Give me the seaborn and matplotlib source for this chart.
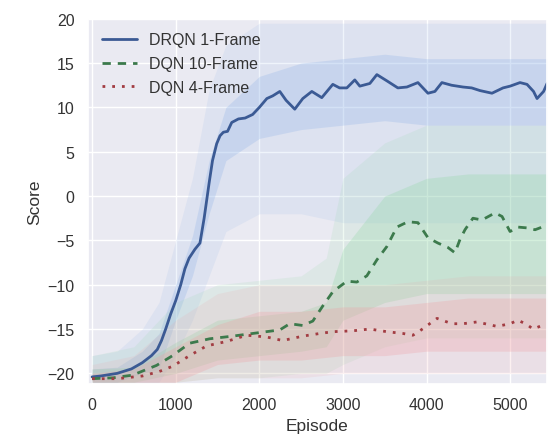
import numpy as np
import pandas as pd
import matplotlib
matplotlib.use("Agg")
import matplotlib.pyplot as plt
import seaborn as sns

# ---- data ----
series_names = ["DRQN 1-Frame", "DQN 10-Frame", "DQN 4-Frame"]

drqn_ep = [0, 100, 300, 470, 600, 710, 780, 830, 880, 940, 1000, 1060, 1110, 1160, 1230, 1290,
           1340, 1400, 1440, 1490, 1530, 1570, 1620, 1670, 1750, 1830, 1920, 2000, 2090, 2160,
           2245, 2320, 2424, 2520, 2628, 2747, 2879, 2960, 3047, 3142, 3202, 3322, 3406, 3525,
           3657, 3765, 3897, 4017, 4100, 4184, 4300, 4436, 4540, 4639, 4783, 4915, 5000, 5118,
           5202, 5280, 5322, 5400, 5442]
drqn_val = [-20.4, -20.3, -20.0, -19.5, -18.8, -18.0, -17.3, -16.3, -15.0, -13.3, -11.8, -10.0,
            -8.2, -7.0, -6.0, -5.3, -2.5, 1.5, 4.0, 5.9, 6.8, 7.2, 7.3, 8.3, 8.7, 8.8, 9.2, 10.0,
            11.0, 11.3, 11.8, 10.8, 9.8, 11.0, 11.8, 11.1, 12.6, 12.2, 12.2, 13.1, 12.4, 12.7,
            13.7, 13.0, 12.2, 12.3, 12.8, 11.6, 11.8, 12.8, 12.5, 12.3, 12.2, 11.9, 11.6, 12.2,
            12.4, 12.8, 12.6, 11.8, 11.0, 11.8, 12.7]

dqn10_ep = [0, 250, 484, 771, 963, 1166, 1406, 1681, 1921, 2245, 2364, 2520, 2640, 2759, 2879,
            3047, 3166, 3286, 3406, 3525, 3645, 3777, 3897, 4017, 4136, 4256, 4340, 4400, 4460,
            4555, 4663, 4819, 4903, 4999, 5094, 5214, 5298, 5382]
dqn10_val = [-20.6, -20.5, -20.2, -19.1, -18.0, -16.6, -16.1, -15.8, -15.5, -15.1, -14.4, -14.6,
             -14.1, -12.4, -10.8, -9.6, -9.7, -9.0, -7.2, -5.7, -3.5, -2.9, -3.0, -4.7, -5.3,
             -5.8, -6.4, -4.9, -3.8, -2.5, -2.7, -1.9, -2.3, -4.0, -3.5, -3.6, -3.8, -3.5]

dqn4_ep = [0, 300, 600, 800, 963, 1166, 1370, 1609, 1849, 2089, 2280, 2520, 2723, 2879, 3118,
           3322, 3525, 3717, 3837, 3921, 4125, 4304, 4436, 4603, 4843, 4999, 5094, 5202, 5274,
           5382]
dqn4_val = [-20.6, -20.6, -20.3, -19.8, -19.2, -18.0, -16.9, -16.4, -15.7, -15.9, -16.3, -15.8,
            -15.5, -15.3, -15.2, -15.0, -15.3, -15.5, -15.7, -15.2, -13.8, -14.4, -14.4, -14.2,
            -14.7, -14.4, -14.0, -14.5, -15.0, -14.6]

# spread of the raw scores (inner = dense part, outer = faint extremes)
drqn_band_ep = [0, 300, 600, 800, 1000, 1200, 1400, 1600, 2000, 2500, 3000, 3500, 4000, 4500, 5000, 5440]
drqn_in_hi = [-19.5, -19.3, -17.5, -15.5, -10.0, -4.5, 4.0, 10.0, 13.5, 15.0, 15.5, 16.0, 15.5, 15.5, 15.5, 15.5]
drqn_in_lo = [-21.0, -21.0, -20.0, -19.5, -14.0, -9.0, -2.0, 4.0, 6.5, 7.5, 8.0, 8.5, 8.0, 8.0, 8.0, 8.0]
drqn_out_hi = [-18.0, -17.5, -15.0, -12.0, -5.0, 2.0, 12.0, 17.0, 19.5, 19.5, 19.5, 19.5, 19.5, 19.5, 19.5, 19.5]
drqn_out_lo = [-21.0, -21.0, -21.0, -21.0, -18.0, -14.0, -9.0, -4.0, -2.0, -2.0, -3.0, -3.0, -3.0, -3.0, -3.0, -3.0]

dqn10_band_ep = [0, 500, 1000, 1500, 2000, 2500, 2800, 3000, 3500, 4000, 4500, 5000, 5440]
dqn10_in_hi = [-19.5, -19.3, -16.5, -14.0, -13.5, -13.0, -12.0, -6.0, 0.0, 2.0, 2.5, 2.5, 2.5]
dqn10_in_lo = [-21.0, -21.0, -20.0, -18.5, -18.0, -17.5, -17.0, -14.0, -12.0, -11.0, -11.0, -11.0, -11.0]
dqn10_out_hi = [-18.0, -17.0, -12.0, -10.0, -9.5, -9.0, -7.0, 2.0, 6.0, 8.0, 8.0, 8.0, 8.0]
dqn10_out_lo = [-21.0, -21.0, -21.0, -20.5, -20.5, -20.0, -20.0, -19.0, -17.0, -16.0, -16.0, -16.0, -16.0]

dqn4_band_ep = [0, 500, 1000, 1500, 2000, 2500, 3000, 3500, 4000, 4500, 5000, 5440]
dqn4_in_hi = [-20.0, -19.5, -17.0, -14.5, -13.0, -13.0, -12.5, -12.5, -12.0, -11.5, -11.5, -11.5]
dqn4_in_lo = [-21.0, -21.0, -21.0, -19.0, -18.5, -18.5, -18.0, -18.0, -17.5, -17.5, -17.5, -17.5]
dqn4_out_hi = [-19.0, -18.0, -14.0, -11.0, -10.0, -10.0, -10.0, -10.0, -9.5, -9.0, -9.0, -9.0]
dqn4_out_lo = [-21.0, -21.0, -21.0, -20.5, -20.5, -20.5, -20.0, -20.0, -20.0, -20.0, -20.0, -20.0]

y_ticks = [-20, -15, -10, -5, 0, 5, 10, 15, 20]
x_ticks = [0, 1000, 2000, 3000, 4000, 5000]

# ---- style ----
sns.set_theme(style="darkgrid")
plt.rcParams["font.family"] = ["Liberation Sans", "DejaVu Sans"]

line_colors = {"DRQN 1-Frame": "#3B5A94", "DQN 10-Frame": "#3C7A4C", "DQN 4-Frame": "#A23C42"}
band_colors = {"DRQN 1-Frame": "#8FB3E8", "DQN 10-Frame": "#8FD6A4", "DQN 4-Frame": "#F09DA2"}

df = pd.concat([
    pd.DataFrame({"Episode": drqn_ep, "Score": drqn_val, "run": series_names[0]}),
    pd.DataFrame({"Episode": dqn10_ep, "Score": dqn10_val, "run": series_names[1]}),
    pd.DataFrame({"Episode": dqn4_ep, "Score": dqn4_val, "run": series_names[2]}),
], ignore_index=True)

fig = plt.figure(figsize=(5.53, 4.39), dpi=100)
ax = fig.add_axes([0.159, 0.123, 0.830, 0.832])

bands = [
    (series_names[0], drqn_band_ep, drqn_in_lo, drqn_in_hi, drqn_out_lo, drqn_out_hi),
    (series_names[1], dqn10_band_ep, dqn10_in_lo, dqn10_in_hi, dqn10_out_lo, dqn10_out_hi),
    (series_names[2], dqn4_band_ep, dqn4_in_lo, dqn4_in_hi, dqn4_out_lo, dqn4_out_hi),
]
for name, ep, ilo, ihi, olo, ohi in bands:
    ax.fill_between(ep, olo, ohi, color=band_colors[name], alpha=0.14, linewidth=0)
    ax.fill_between(ep, ilo, ihi, color=band_colors[name], alpha=0.28, linewidth=0)

sns.lineplot(data=df, x="Episode", y="Score", hue="run", style="run",
             hue_order=series_names, style_order=series_names,
             palette=line_colors,
             dashes={"DRQN 1-Frame": "", "DQN 10-Frame": (3, 2.5), "DQN 4-Frame": (1, 2.5)},
             linewidth=2.0, ax=ax, estimator=None, sort=True)

ax.set_xlim(-50, 5440)
ax.set_ylim(-21.2, 19.8)
ax.set_xticks(x_ticks)
ax.set_yticks(y_ticks)
ax.tick_params(labelsize=11.5, colors="#333333")
ax.set_xlabel("Episode", fontsize=12.5, color="#333333")
ax.set_ylabel("Score", fontsize=12.5, color="#333333")

leg = ax.legend(loc="upper left", frameon=False, fontsize=11.5, handlelength=2.2,
                borderaxespad=0.45, labelspacing=0.55)
for t in leg.get_texts():
    t.set_color("#333333")

fig.savefig("out.png", dpi=100)
